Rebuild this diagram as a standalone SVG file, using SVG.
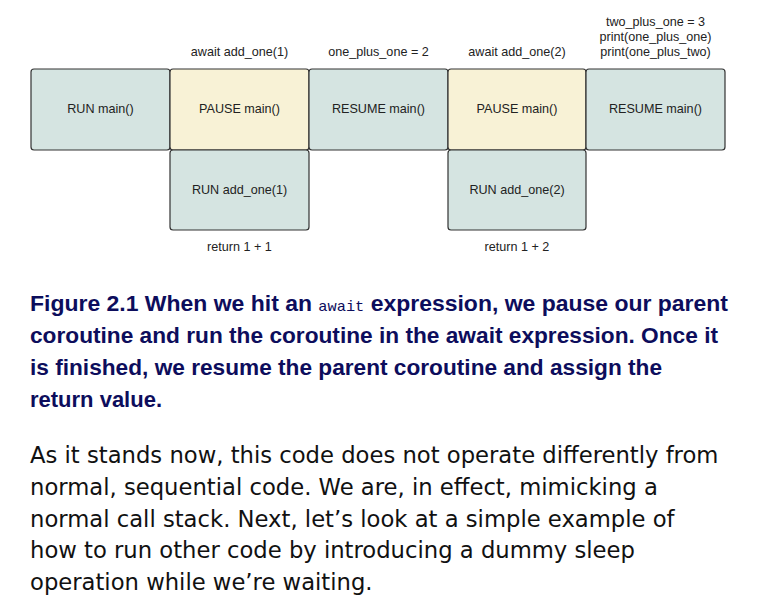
<svg xmlns="http://www.w3.org/2000/svg" width="764" height="602" viewBox="0 0 764 602">
<style>
.box{stroke:#333;stroke-width:1.2}
.run{fill:#d5e4e1}
.pause{fill:#f8f2d6}
.lbl{font-family:"Liberation Sans",Arial,sans-serif;font-size:12.6px;fill:#222;text-anchor:middle}
.cap{font-family:"Liberation Sans",Arial,sans-serif;font-size:22.5px;font-weight:bold;fill:#0d0d5c}
.mono{font-family:"Liberation Mono","Courier New",monospace;font-size:15px;font-weight:normal}
.body{font-family:"DejaVu Sans",Verdana,sans-serif;font-size:22.7px;fill:#111}
</style>
<rect width="764" height="602" fill="#fff"/>
<g id="connectors"></g>
<g id="run-main">
<rect class="box run" x="31" y="69" width="139" height="81" rx="3"/>
<text class="lbl" x="100.5" y="113">RUN main()</text>
</g>
<g id="pause-main-1">
<rect class="box pause" x="170" y="69" width="139" height="81" rx="3"/>
<text class="lbl" x="239.5" y="113">PAUSE main()</text>
<text class="lbl" x="239.5" y="56">await add_one(1)</text>
</g>
<g id="run-add-one-1">
<rect class="box run" x="170" y="150" width="139" height="80" rx="3"/>
<text class="lbl" x="239.5" y="194">RUN add_one(1)</text>
<text class="lbl" x="239.5" y="251">return 1 + 1</text>
</g>
<g id="resume-main-1">
<rect class="box run" x="309" y="69" width="139" height="81" rx="3"/>
<text class="lbl" x="378.5" y="113">RESUME main()</text>
<text class="lbl" x="378.5" y="56">one_plus_one = 2</text>
</g>
<g id="pause-main-2">
<rect class="box pause" x="448" y="69" width="138" height="81" rx="3"/>
<text class="lbl" x="517" y="113">PAUSE main()</text>
<text class="lbl" x="517" y="56">await add_one(2)</text>
</g>
<g id="run-add-one-2">
<rect class="box run" x="448" y="150" width="138" height="80" rx="3"/>
<text class="lbl" x="517" y="194">RUN add_one(2)</text>
<text class="lbl" x="517" y="251">return 1 + 2</text>
</g>
<g id="resume-main-2">
<rect class="box run" x="586" y="69" width="139" height="81" rx="3"/>
<text class="lbl" x="655.5" y="113">RESUME main()</text>
<text class="lbl" x="655.5" y="26">two_plus_one = 3</text>
<text class="lbl" x="655.5" y="41">print(one_plus_one)</text>
<text class="lbl" x="655.5" y="56">print(one_plus_two)</text>
</g>
<g id="caption">
<text class="cap" x="30" y="311" textLength="698" lengthAdjust="spacingAndGlyphs">Figure 2.1 When we hit an <tspan class="mono">await</tspan> expression, we pause our parent</text>
<text class="cap" x="30" y="343" textLength="688" lengthAdjust="spacingAndGlyphs">coroutine and run the coroutine in the await expression. Once it</text>
<text class="cap" x="30" y="375" textLength="632" lengthAdjust="spacingAndGlyphs">is finished, we resume the parent coroutine and assign the</text>
<text class="cap" x="30" y="407" textLength="132" lengthAdjust="spacingAndGlyphs">return value.</text>
</g>
<g id="body">
<text class="body" x="30" y="463">As it stands now, this code does not operate differently from</text>
<text class="body" x="30" y="495">normal, sequential code. We are, in effect, mimicking a</text>
<text class="body" x="30" y="527">normal call stack. Next, let’s look at a simple example of</text>
<text class="body" x="30" y="558">how to run other code by introducing a dummy sleep</text>
<text class="body" x="30" y="590">operation while we’re waiting.</text>
</g>
</svg>
